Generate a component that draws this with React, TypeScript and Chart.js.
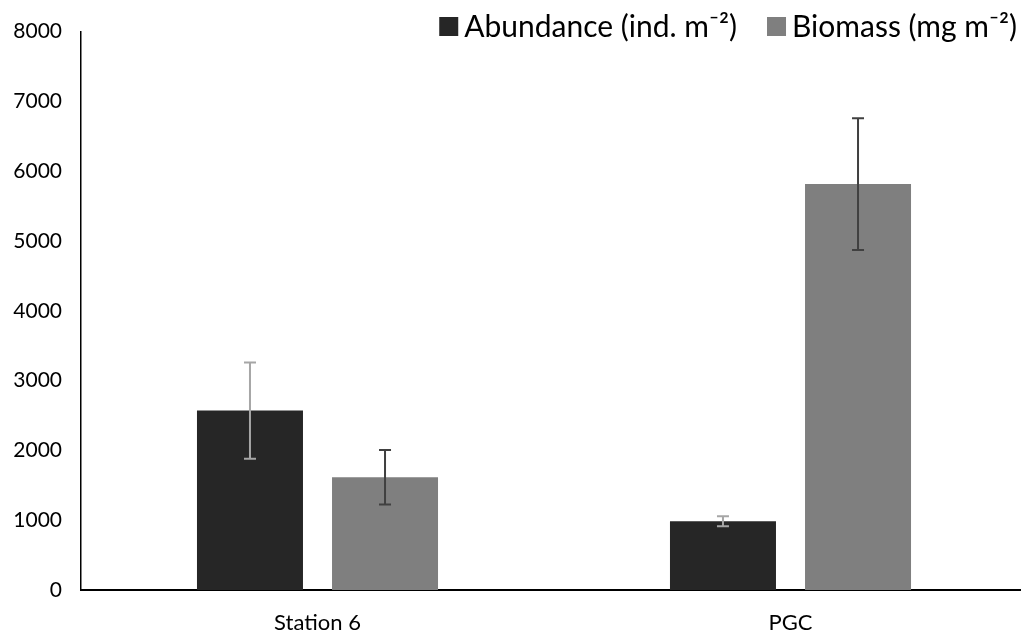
import React, { useEffect, useRef } from "react";
import { Chart, registerables } from "chart.js";

Chart.register(...registerables);

// Sampling sites and their mean values with standard errors
const sites = ["Station 6", "PGC"];
const abundance = [2570, 985];
const abundanceErr = [690, 70];
const biomass = [1615, 5815];
const biomassErr = [390, 945];
const yTicks = [0, 1000, 2000, 3000, 4000, 5000, 6000, 7000, 8000];

const seriesLabels = ["Abundance (ind. m⁻²)", "Biomass (mg m⁻²)"];
const seriesColors = ["#262626", "#7f7f7f"];
const errorColors = ["#a6a6a6", "#404040"];
const FONT = "Lato, 'Open Sans', sans-serif";

// Draws whisker error bars on top of each bar using the value scale
const errorBarPlugin = {
  id: "errorBars",
  afterDatasetsDraw(chart: any) {
    const ctx = chart.ctx;
    const yScale = chart.scales.y;
    chart.data.datasets.forEach((ds: any, di: number) => {
      const meta = chart.getDatasetMeta(di);
      meta.data.forEach((bar: any, i: number) => {
        const v = ds.data[i];
        const e = ds.errors[i];
        const yTop = yScale.getPixelForValue(v + e);
        const yBot = yScale.getPixelForValue(v - e);
        const x = bar.x;
        const cap = 6;
        ctx.save();
        ctx.strokeStyle = ds.errorColor;
        ctx.lineWidth = 2;
        ctx.beginPath();
        ctx.moveTo(x, yTop);
        ctx.lineTo(x, yBot);
        ctx.moveTo(x - cap, yTop);
        ctx.lineTo(x + cap, yTop);
        ctx.moveTo(x - cap, yBot);
        ctx.lineTo(x + cap, yBot);
        ctx.stroke();
        ctx.restore();
      });
    });
  },
};

// Legend with square swatches, right-aligned at the top of the figure
const topLegendPlugin = {
  id: "topLegend",
  afterDraw(chart: any) {
    const ctx = chart.ctx;
    ctx.save();
    ctx.font = `30px ${FONT}`;
    ctx.textBaseline = "alphabetic";
    ctx.textAlign = "left";
    const box = 19;
    const gapBoxText = 6;
    const gapItems = 30;
    const baseline = 37;
    const widths = chart.data.datasets.map((d: any) => ctx.measureText(d.label).width);
    let total = 0;
    widths.forEach((w: number, i: number) => {
      total += box + gapBoxText + w + (i < widths.length - 1 ? gapItems : 0);
    });
    let x = 1017 - total;
    chart.data.datasets.forEach((d: any, i: number) => {
      ctx.fillStyle = d.backgroundColor;
      ctx.fillRect(x, 17, box, box);
      x += box + gapBoxText;
      ctx.fillStyle = "#000000";
      ctx.fillText(d.label, x, baseline);
      x += widths[i] + gapItems;
    });
    ctx.restore();
  },
};

export default function App() {
  const canvasRef = useRef<HTMLCanvasElement | null>(null);

  useEffect(() => {
    if (!canvasRef.current) return;
    const chart = new Chart(canvasRef.current, {
      type: "bar",
      data: {
        labels: sites,
        datasets: [
          {
            label: seriesLabels[0],
            data: abundance,
            errors: abundanceErr,
            errorColor: errorColors[0],
            backgroundColor: seriesColors[0],
          } as any,
          {
            label: seriesLabels[1],
            data: biomass,
            errors: biomassErr,
            errorColor: errorColors[1],
            backgroundColor: seriesColors[1],
          } as any,
        ],
      },
      options: {
        animation: false,
        responsive: false,
        maintainAspectRatio: false,
        devicePixelRatio: 1,
        layout: { padding: { top: 30, right: 0, left: 0, bottom: 0 } },
        datasets: {
          bar: { categoryPercentage: 0.571, barPercentage: 0.785 },
        },
        plugins: {
          legend: { display: false },
          tooltip: { enabled: false },
        },
        scales: {
          x: {
            grid: { display: false, drawTicks: false },
            border: { display: true, color: "#000000", width: 2 },
            ticks: {
              color: "#000000",
              font: { family: FONT, size: 22 },
              padding: 20,
            },
            afterFit: (s: any) => {
              s.height = 47;
            },
          },
          y: {
            min: 0,
            max: 8000,
            afterBuildTicks: (s: any) => {
              s.ticks = yTicks.map((v) => ({ value: v }));
            },
            grid: { display: false, drawTicks: false },
            border: { display: true, color: "#000000", width: 1.5 },
            ticks: {
              color: "#000000",
              font: { family: FONT, size: 21 },
              padding: 19,
              callback: (v: any) => String(v),
            },
            afterFit: (s: any) => {
              s.width = 81;
            },
          },
        },
      },
      plugins: [errorBarPlugin, topLegendPlugin],
    });
    return () => chart.destroy();
  }, []);

  return (
    <div
      style={{
        position: "fixed",
        left: 0,
        top: 0,
        width: "1021px",
        height: "637px",
        overflow: "hidden",
        background: "#ffffff",
      }}
    >
      <canvas ref={canvasRef} width={1027} height={637} style={{ display: "block" }} />
    </div>
  );
}
